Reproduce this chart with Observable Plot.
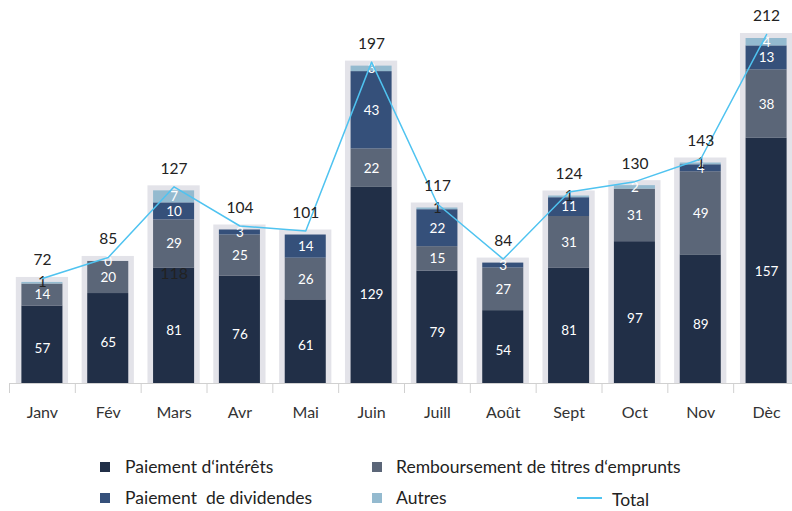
<!DOCTYPE html>
<html><head><meta charset="utf-8">
<script src="https://cdn.jsdelivr.net/npm/d3@7"></script>
<script src="https://cdn.jsdelivr.net/npm/@observablehq/plot@0.6"></script>
<style>
body{margin:0;background:#fff;font-family:Lato,"Noto Sans",sans-serif;}
#wrap{position:relative;width:792px;height:511px;overflow:hidden;}
#legend{position:absolute;left:0;top:440px;width:792px;height:71px;font-size:17.5px;color:#222;}
.it{position:absolute;white-space:pre;line-height:20px;}
.sw{position:absolute;width:10px;height:10px;}
.ln{position:absolute;width:25px;height:2px;background:#4fc3f0;}
</style></head>
<body><div id="wrap"><div id="chart"></div><div id="legend"></div></div>
<script>
const months = ["Janv","Fév","Mars","Avr","Mai","Juin","Juill","Août","Sept","Oct","Nov","Dèc"];
const seriesNames = ["Paiement d‘intérêts","Remboursement de titres d‘emprunts","Paiement  de dividendes","Autres"];
const seriesColors = ["#212f47","#5b6678","#35507a","#94bacf"];
const interets = [57,65,81,76,61,129,79,54,81,97,89,157];
const remboursement = [14,20,29,25,26,22,15,27,31,31,49,38];
const dividendes = [null,null,10,3,14,43,22,3,11,null,4,13];
const autres = [1,0,7,null,null,3,1,null,1,2,1,4];
const totals = [72,85,127,104,101,197,117,84,124,130,143,212];
const strayLabels = [{month:"Mars", value:81, text:"118"}];

const seriesValues = [interets, remboursement, dividendes, autres];
const stacked = [];
months.forEach((m,i)=>{
  let cum = 0;
  seriesValues.forEach((vals,s)=>{
    const v = vals[i];
    if (v == null) return;
    stacked.push({month:m, series:seriesNames[s], value:v, y1:cum, y2:cum+v, mid:cum+v/2});
    cum += v;
  });
});
const totalData = months.map((m,i)=>({month:m, total:totals[i]}));

const W = 792, H = 440;
const bw = (W + 7 - 9) / months.length;

const chart = Plot.plot({
  width: W, height: H,
  marginLeft: 9, marginRight: -7, marginTop: 38, marginBottom: 57,
  x: {domain: months, padding: 0, round: false, axis: null},
  y: {type: "pow", exponent: 1.137, domain: [0, 212], axis: null},
  color: {domain: seriesNames, range: seriesColors},
  style: {fontFamily: "Lato, 'Noto Sans', sans-serif", background: "transparent"},
  marks: [
    Plot.barY(totalData, {x: "month", y: "total", fill: "#e3e3e9", insetLeft: 6.8, insetRight: 6.8, insetTop: -5}),
    Plot.barY(stacked, {x: "month", y1: "y1", y2: "y2", fill: "series", insetLeft: 12.4, insetRight: 12.4}),
    Plot.ruleY([0], {stroke: "#d0d0d0", strokeWidth: 1}),
    Plot.axisX({ticks: months, tickSize: 10, text: null, dx: -bw/2, stroke: "#d0d0d0", label: null}),
    Plot.axisX({ticks: months, tickSize: 0, tickPadding: 23, fontSize: 16, fill: "#333", label: null}),
    Plot.text(stacked.filter(d => d.value !== 1), {x: "month", y: "mid", text: d => String(d.value), fill: "white", fontSize: 13.5}),
    Plot.text(stacked.filter(d => d.value === 1), {x: "month", y: "y2", text: d => String(d.value), fill: "#222", fontSize: 15}),
    Plot.text(strayLabels, {x: "month", y: "value", text: "text", fill: "#222", fontSize: 16, dy: 6}),
    Plot.line(totalData, {x: "month", y: "total", stroke: "#4fc3f0", strokeWidth: 1.5, dy: -4}),
    Plot.text(totalData, {x: "month", y: "total", text: d => String(d.total), fill: "#222", fontSize: 15.5, dy: -22})
  ]
});
document.getElementById("chart").appendChild(chart);

const legend = document.getElementById("legend");
const items = [
  {name: seriesNames[0], color: seriesColors[0], sx: 100, sy: 22, tx: 125, ty: 17},
  {name: seriesNames[1], color: seriesColors[1], sx: 372, sy: 22, tx: 396, ty: 17},
  {name: seriesNames[2], color: seriesColors[2], sx: 100, sy: 53, tx: 125, ty: 48},
  {name: seriesNames[3], color: seriesColors[3], sx: 372, sy: 53, tx: 396, ty: 48}
];
items.forEach(it => {
  const s = document.createElement("div"); s.className = "sw";
  s.style.left = it.sx + "px"; s.style.top = it.sy + "px"; s.style.background = it.color;
  legend.appendChild(s);
  const t = document.createElement("div"); t.className = "it";
  t.style.left = it.tx + "px"; t.style.top = it.ty + "px"; t.textContent = it.name;
  legend.appendChild(t);
});
const l = document.createElement("div"); l.className = "ln"; l.style.left = "577px"; l.style.top = "57px"; legend.appendChild(l);
const lt = document.createElement("div"); lt.className = "it"; lt.style.left = "612px"; lt.style.top = "50px"; lt.textContent = "Total"; legend.appendChild(lt);
</script></body></html>
